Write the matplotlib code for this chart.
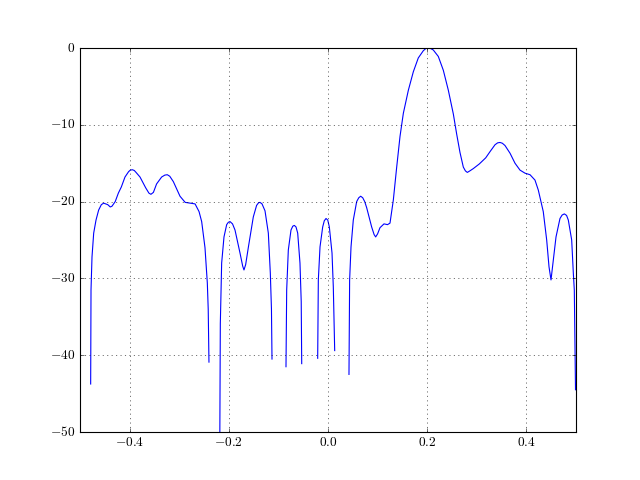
import matplotlib
matplotlib.use('Agg')

import numpy as np
import matplotlib.pyplot as plt

# magnitude response (dB), one list per connected piece
seg1_f = [-0.4785, -0.4780, -0.4778, -0.4758, -0.4724, -0.4677, -0.4624, -0.4570,
          -0.4523, -0.4440, -0.4390, -0.4355, -0.4290, -0.4227, -0.4167, -0.4093,
          -0.4020, -0.3985, -0.3945, -0.3905, -0.3870, -0.3790, -0.3676, -0.3610,
          -0.3570, -0.3520, -0.3456, -0.3354, -0.3290, -0.3240, -0.3190, -0.3118,
          -0.2984, -0.2880, -0.2782, -0.2680, -0.2600, -0.2547, -0.2480, -0.2433,
          -0.2415, -0.2400]
seg1_db = [-43.75, -33.0, -31.5, -27.2, -24.1, -22.4, -21.1, -20.4,
           -20.2, -20.4, -20.7, -20.6, -20.0, -18.9, -18.1, -16.8,
           -16.1, -15.9, -15.85, -15.95, -16.2, -16.8, -18.2, -18.9,
           -19.05, -18.8, -17.7, -16.8, -16.55, -16.5, -16.7, -17.4,
           -19.3, -20.1, -20.2, -20.3, -21.3, -22.6, -26.0, -30.6,
           -34.0, -40.9]

seg2_f = [-0.2184, -0.2171, -0.2144, -0.2097, -0.2043, -0.2010, -0.1976, -0.1925,
          -0.1875, -0.1774, -0.1720, -0.1694, -0.1660, -0.1607, -0.1506, -0.1440,
          -0.1400, -0.1371, -0.1330, -0.1270, -0.1203, -0.1163, -0.1140, -0.1129]
seg2_db = [-55.0, -35.9, -28.0, -24.6, -23.0, -22.7, -22.6, -22.9,
           -23.7, -26.7, -28.4, -28.9, -28.2, -26.0, -22.0, -20.5,
           -20.15, -20.1, -20.3, -21.2, -24.1, -29.3, -34.0, -40.5]

seg3_f = [-0.0847, -0.0833, -0.0800, -0.0746, -0.0710, -0.0679, -0.0645, -0.0611,
          -0.0565, -0.0540, -0.0530]
seg3_db = [-41.5, -31.5, -26.3, -23.7, -23.2, -23.1, -23.3, -24.1,
           -28.0, -33.0, -41.1]

seg4_f = [-0.0208, -0.0195, -0.0161, -0.0107, -0.0075, -0.0040, -0.0005, 0.0027,
          0.0081, 0.0107, 0.0135]
seg4_db = [-40.4, -30.2, -25.9, -23.3, -22.5, -22.2, -22.4, -23.3,
           -26.7, -31.1, -39.4]

seg5_f = [0.0423, 0.0436, 0.0464, 0.0510, 0.0578, 0.0620, 0.0659, 0.0700,
          0.0740, 0.0780, 0.0880, 0.0930, 0.0961, 0.1000, 0.1048, 0.1129,
          0.1200, 0.1250, 0.1317, 0.1385, 0.1452, 0.1519, 0.1620, 0.1720,
          0.1820, 0.1922, 0.1970, 0.2022, 0.2070, 0.2123, 0.2224, 0.2325,
          0.2426, 0.2527, 0.2594, 0.2661, 0.2728, 0.2770, 0.2809, 0.2860,
          0.2930, 0.3050, 0.3180, 0.3266, 0.3367, 0.3420, 0.3468, 0.3515,
          0.3569, 0.3670, 0.3770, 0.3871, 0.3972, 0.4073, 0.4173, 0.4240,
          0.4340, 0.4409, 0.4456, 0.4496, 0.4543, 0.4597, 0.4677, 0.4720,
          0.4765, 0.4810, 0.4845, 0.4913, 0.4946, 0.4966, 0.4990]
seg5_db = [-42.5, -30.2, -25.9, -22.4, -20.0, -19.5, -19.3, -19.5,
           -20.0, -20.8, -23.3, -24.3, -24.6, -24.2, -23.4, -22.9,
           -23.0, -22.8, -19.8, -15.5, -11.5, -8.5, -5.5, -3.1,
           -1.3, -0.35, -0.08, 0.0, -0.07, -0.26, -1.1, -2.9,
           -5.5, -8.6, -11.2, -13.6, -15.5, -16.0, -16.2, -16.0,
           -15.7, -15.1, -14.3, -13.5, -12.6, -12.35, -12.3, -12.4,
           -12.7, -13.7, -15.0, -15.9, -16.3, -16.5, -17.2, -18.5,
           -21.3, -25.0, -28.5, -30.2, -27.6, -24.6, -22.2, -21.75,
           -21.6, -21.8, -22.4, -25.0, -29.3, -31.5, -44.5]

plt.style.use('classic')
plt.rcParams['font.family'] = 'serif'
plt.rcParams['font.serif'] = ['cmr10']
plt.rcParams['mathtext.fontset'] = 'cm'
plt.rcParams['axes.formatter.use_mathtext'] = True

# join the pieces with gaps (nan breaks the line)
freq = []
mag = []
for f, m in [(seg1_f, seg1_db), (seg2_f, seg2_db), (seg3_f, seg3_db),
             (seg4_f, seg4_db), (seg5_f, seg5_db)]:
    freq += f + [np.nan]
    mag += m + [np.nan]

fig = plt.figure(figsize=(8, 6), dpi=80)
ax = fig.add_subplot(111)
ax.plot(freq, mag, color='b')
ax.set_xlim([-0.5, 0.5])
ax.set_ylim([-50, 0])
ax.set_xticks([-0.4, -0.2, 0.0, 0.2, 0.4])
ax.grid(True)

fig.savefig('out.png', dpi=80)
plt.close('all')
